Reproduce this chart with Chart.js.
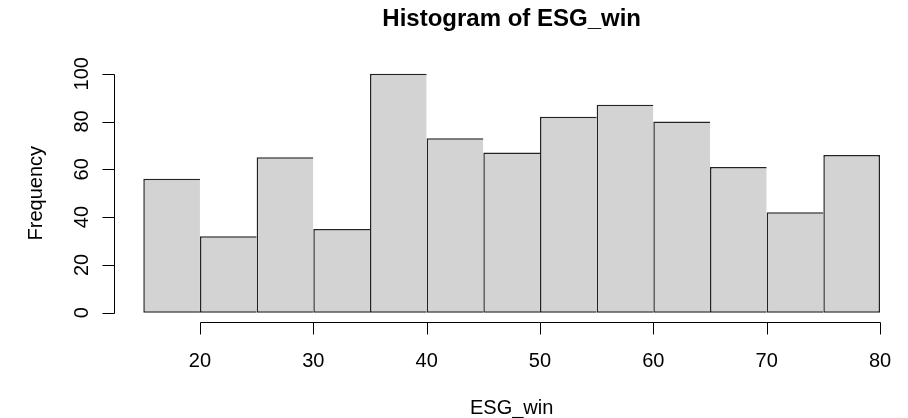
<!DOCTYPE html>
<html>
<head>
<meta charset="utf-8">
<script src="https://cdn.jsdelivr.net/npm/chart.js@4.4.1/dist/chart.umd.min.js"></script>
<style>
    html, body { margin: 0; padding: 0; background: #fff; }
    #histo { display: block; }
</style>
</head>
<body>
<canvas id="histo" width="908" height="418"></canvas>
<script>
/* -------------------------------------------------------------------------- */
/*  1. DATA                                                                   */
/* -------------------------------------------------------------------------- */

const BREAKS = [15, 20, 25, 30, 35, 40, 45, 50, 55, 60, 65, 70, 75, 80];
const COUNTS = [56, 32, 65, 35, 100, 73, 67, 82, 87, 80, 61, 42, 66];
const X_TICKS = [20, 30, 40, 50, 60, 70, 80];
const Y_TICKS = [0, 20, 40, 60, 80, 100];

const TITLE = "Histogram of ESG_win";
const X_TITLE = "ESG_win";
const Y_TITLE = "Frequency";

const FONT = "'Liberation Sans', Arial, sans-serif";

/* -------------------------------------------------------------------------- */
/*  2. R-STYLE AXES (drawn from the chart scales)                             */
/* -------------------------------------------------------------------------- */

const rAxes = {
    id: "rAxes",
    afterDraw(chart) {
        const ctx = chart.ctx;
        const xs = chart.scales.x;
        const ys = chart.scales.y;
        const area = chart.chartArea;

        // R extends the plot region by 4% on each side, axes sit on that edge
        const axisY = Math.round(area.bottom + 0.04 * (area.bottom - area.top)) + 0.5;
        const axisX = Math.round(area.left - 0.04 * (area.right - area.left)) + 0.5;
        const tick = 12;

        ctx.save();
        ctx.strokeStyle = "#000";
        ctx.fillStyle = "#000";
        ctx.lineWidth = 1;

        // x axis
        const x0 = Math.round(xs.getPixelForValue(X_TICKS[0])) + 0.5;
        const x1 = Math.round(xs.getPixelForValue(X_TICKS[X_TICKS.length - 1])) + 0.5;
        ctx.beginPath();
        ctx.moveTo(x0, axisY);
        ctx.lineTo(x1, axisY);
        X_TICKS.forEach(v => {
            const px = Math.round(xs.getPixelForValue(v)) + 0.5;
            ctx.moveTo(px, axisY);
            ctx.lineTo(px, axisY + tick);
        });
        ctx.stroke();

        ctx.font = "20px " + FONT;
        ctx.textAlign = "center";
        ctx.textBaseline = "alphabetic";
        X_TICKS.forEach(v => {
            ctx.fillText(String(v), xs.getPixelForValue(v), axisY + 44);
        });

        // y axis
        const y0 = Math.round(ys.getPixelForValue(Y_TICKS[0])) + 0.5;
        const y1 = Math.round(ys.getPixelForValue(Y_TICKS[Y_TICKS.length - 1])) + 0.5;
        ctx.beginPath();
        ctx.moveTo(axisX, y0);
        ctx.lineTo(axisX, y1);
        Y_TICKS.forEach(v => {
            const py = Math.round(ys.getPixelForValue(v)) + 0.5;
            ctx.moveTo(axisX, py);
            ctx.lineTo(axisX - tick, py);
        });
        ctx.stroke();

        Y_TICKS.forEach(v => {
            ctx.save();
            ctx.translate(axisX - 27, ys.getPixelForValue(v));
            ctx.rotate(-Math.PI / 2);
            ctx.fillText(String(v), 0, 0);
            ctx.restore();
        });

        // titles
        const midX = (area.left + area.right) / 2;
        const midY = (area.top + area.bottom) / 2;

        ctx.fillText(X_TITLE, midX, 414);

        ctx.save();
        ctx.translate(42, midY);
        ctx.rotate(-Math.PI / 2);
        ctx.fillText(Y_TITLE, 0, 0);
        ctx.restore();

        ctx.font = "bold 24px " + FONT;
        ctx.fillText(TITLE, midX, 26);

        ctx.restore();
    }
};

/* -------------------------------------------------------------------------- */
/*  3. CHART                                                                  */
/* -------------------------------------------------------------------------- */

const bins = COUNTS.map((c, i) => ({ x: (BREAKS[i] + BREAKS[i + 1]) / 2, y: c }));
const last = COUNTS.length - 1;

new Chart(document.getElementById("histo"), {
    type: "bar",
    data: {
        datasets: [{
            data: bins,
            backgroundColor: "#d3d3d3",
            borderColor: "#222",
            // shared edges: each bar draws its left side only, the last one both
            borderWidth: c => ({ top: 1.5, bottom: 1.5, left: 1.5, right: c.dataIndex === last ? 1.5 : 0 }),
            borderSkipped: false,
            inflateAmount: 0,
            barPercentage: 1,
            categoryPercentage: 1,
            clip: false
        }]
    },
    options: {
        responsive: false,
        devicePixelRatio: 1,
        animation: false,
        layout: {
            padding: { left: 143.3, right: 28, top: 73.7, bottom: 105.3 }
        },
        scales: {
            x: {
                type: "linear",
                min: BREAKS[0],
                max: BREAKS[BREAKS.length - 1],
                offset: false,
                display: false
            },
            y: {
                min: Y_TICKS[0],
                max: Y_TICKS[Y_TICKS.length - 1],
                display: false
            }
        },
        plugins: {
            legend: { display: false },
            tooltip: { enabled: false },
            title: { display: false }
        }
    },
    plugins: [rAxes]
});
</script>
</body>
</html>
